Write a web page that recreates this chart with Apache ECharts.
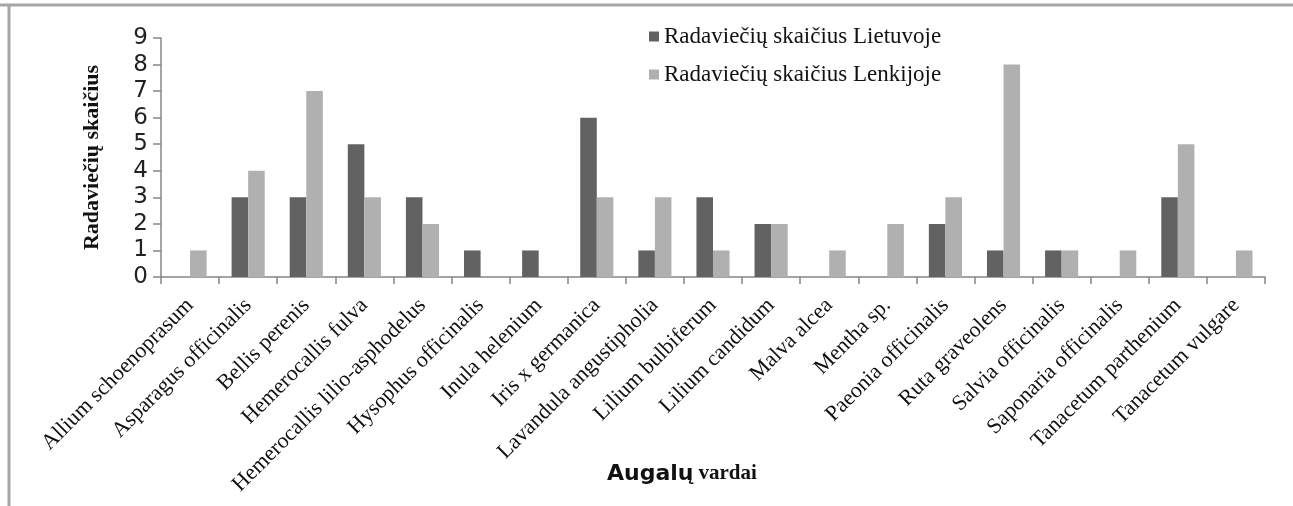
<!DOCTYPE html>
<html>
<head>
<meta charset="utf-8">
<script src="https://cdn.jsdelivr.net/npm/echarts@6/dist/echarts.min.js"></script>
<style>
  html, body { margin: 0; padding: 0; background: #fff; }
  #chart { width: 1293px; height: 506px; }
</style>
</head>
<body>
<div id="chart"></div>
<script>
const categories = [
  'Allium schoenoprasum', 'Asparagus officinalis', 'Bellis perenis', 'Hemerocallis fulva',
  'Hemerocallis lilio-asphodelus', 'Hysophus officinalis', 'Inula helenium', 'Iris x germanica',
  'Lavandula angustipholia', 'Lilium bulbiferum', 'Lilium candidum', 'Malva alcea',
  'Mentha sp.', 'Paeonia officinalis', 'Ruta graveolens', 'Salvia officinalis',
  'Saponaria officinalis', 'Tanacetum parthenium', 'Tanacetum vulgare'
]
const lietuvoje = [0, 3, 3, 5, 3, 1, 1, 6, 1, 3, 2, 0, 0, 2, 1, 1, 0, 3, 0]
const lenkijoje = [1, 4, 7, 3, 2, 0, 0, 3, 3, 1, 2, 1, 2, 3, 8, 1, 1, 5, 1]
const seriesNames = ['Radaviečių skaičius Lietuvoje', 'Radaviečių skaičius Lenkijoje']

const serif = '"Liberation Serif", "Times New Roman", serif'
const sans = '"DejaVu Sans", "Noto Sans", sans-serif'
const axisGray = '#878787'

const chart = echarts.init(document.getElementById('chart'))

chart.setOption({
  animation: false,
  grid: { left: 161, right: 28, top: 38, bottom: 229, containLabel: false },
  title: {
    text: '{a|Augalų} {b|vardai}',
    left: 602,
    top: 458,
    textStyle: {
      rich: {
        a: { fontFamily: sans, fontWeight: 'bold', fontSize: 22, color: '#111' },
        b: { fontFamily: serif, fontWeight: 'bold', fontSize: 21, color: '#111' }
      }
    }
  },
  legend: {
    data: seriesNames,
    orient: 'vertical',
    left: 644,
    top: 20,
    itemWidth: 10,
    itemHeight: 10,
    itemGap: 15,
    icon: 'rect',
    textStyle: { fontFamily: serif, fontSize: 23, color: '#111' }
  },
  xAxis: {
    type: 'category',
    data: categories,
    axisLine: { lineStyle: { color: axisGray, width: 1.5 } },
    axisTick: { show: true, length: 7, lineStyle: { color: axisGray, width: 1.5 } },
    axisLabel: {
      rotate: 45,
      interval: 0,
      margin: 25,
      fontFamily: serif,
      fontSize: 22,
      color: '#111'
    }
  },
  yAxis: {
    type: 'value',
    min: 0,
    max: 9,
    interval: 1,
    name: 'Radaviečių skaičius',
    nameLocation: 'middle',
    nameGap: 58,
    nameRotate: 90,
    nameTextStyle: { fontFamily: serif, fontWeight: 'bold', fontSize: 22, color: '#111' },
    axisLine: { show: true, lineStyle: { color: axisGray, width: 1.5 } },
    axisTick: { show: true, length: 8, lineStyle: { color: axisGray, width: 1.5 } },
    splitLine: { show: false },
    axisLabel: { fontFamily: sans, fontSize: 23, color: '#222', margin: 13 }
  },
  series: [
    {
      name: seriesNames[0],
      type: 'bar',
      data: lietuvoje,
      barGap: '0%',
      barCategoryGap: '43%',
      itemStyle: { color: '#626262' }
    },
    {
      name: seriesNames[1],
      type: 'bar',
      data: lenkijoje,
      barGap: '0%',
      barCategoryGap: '43%',
      itemStyle: { color: '#b0b0b0' }
    }
  ],
  graphic: [
    { type: 'line', shape: { x1: 0, y1: 5, x2: 1293, y2: 5 }, style: { stroke: '#a6a6a6', lineWidth: 3 } },
    { type: 'line', shape: { x1: 9, y1: 5, x2: 9, y2: 506 }, style: { stroke: '#a6a6a6', lineWidth: 3 } }
  ]
})
</script>
</body>
</html>
